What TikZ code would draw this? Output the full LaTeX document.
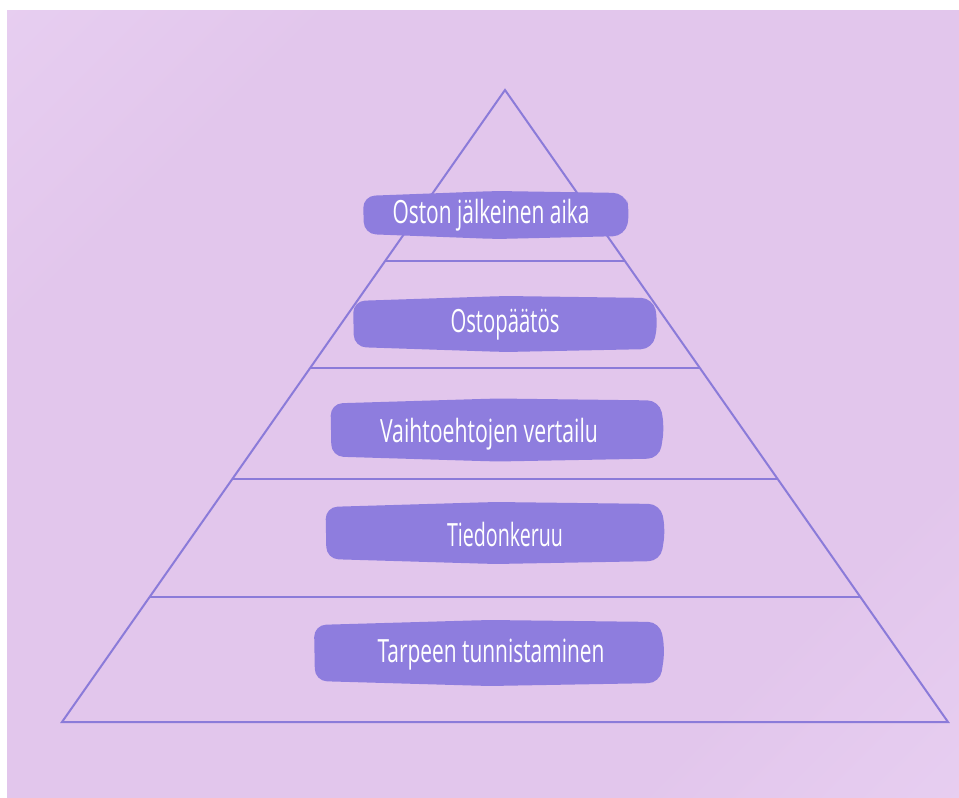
\documentclass[tikz,border=0pt]{standalone}
\usepackage{fontspec}
\setmainfont{Open Sans}
\usepackage{graphicx}
\usetikzlibrary{calc}
\definecolor{bglight}{HTML}{ECD6F5}
\definecolor{bgmid}{HTML}{E2C6EC}
\definecolor{stage}{HTML}{8E7DDE}
\definecolor{edgeline}{HTML}{8B7BD9}
\pgfdeclarehorizontalshading{bgshade}{100bp}{color(0bp)=(bglight); color(28bp)=(bgmid);
  color(72bp)=(bgmid); color(100bp)=(bglight)}
\newcommand{\stagetext}[2]{\resizebox{#1pt}{\height}{#2}}
% brush-like blob: centre x, centre y, width, height
\newcommand{\stageblob}[4]{%
  \fill[stage, rounded corners=12pt] ({#1-#3/2},{#2-#4/2+5})
    -- ({#1},{#2-#4/2}) -- ({#1+#3/2-4},{#2-#4/2+2})
    -- ({#1+#3/2+1},{#2-3}) -- ({#1+#3/2-4},{#2+#4/2-3})
    -- ({#1},{#2+#4/2}) -- ({#1-#3/2+1},{#2+#4/2-5}) -- cycle;}

\begin{document}
\begin{tikzpicture}[x=1pt, y=-1pt,
  edge/.style={draw=edgeline, line width=2pt, line join=miter},
  stagelabel/.style={inner sep=0pt, text=white, font=\fontsize{32}{34}\selectfont}]
\useasboundingbox (0,0) rectangle (959,798);
\fill[white] (0,0) rectangle (959,798);
\shade[shading=bgshade, shading angle=-45] (7,10) rectangle (959,798);

\coordinate (apex) at (505,90);
\coordinate (bl) at (62,722);
\coordinate (br) at (948,722);
\draw[edge] (apex) -- (bl) -- (br) -- cycle;
\foreach \t in {0.2706, 0.4399, 0.6155, 0.8022}
  \draw[edge] ($(apex)!\t!(bl)$) -- ($(apex)!\t!(br)$);

\stageblob{496}{215}{266}{48}
\stageblob{505}{324}{304}{56}
\stageblob{497}{430}{333}{63}
\stageblob{495}{533}{339}{62}
\stageblob{489}{653}{350}{66}

\node (after) at (491,215) [stagelabel] {\stagetext{197}{Oston jälkeinen aika}};
\node (decision) at (505,325) [stagelabel] {\stagetext{109}{Ostopäätös}};
\node (compare) at (489,434) [stagelabel] {\stagetext{218}{Vaihtoehtojen vertailu}};
\node (search) at (505,534) [stagelabel] {\stagetext{116}{Tiedonkeruu}};
\node (need) at (491,655) [stagelabel] {\stagetext{227}{Tarpeen tunnistaminen}};
\end{tikzpicture}
\end{document}
